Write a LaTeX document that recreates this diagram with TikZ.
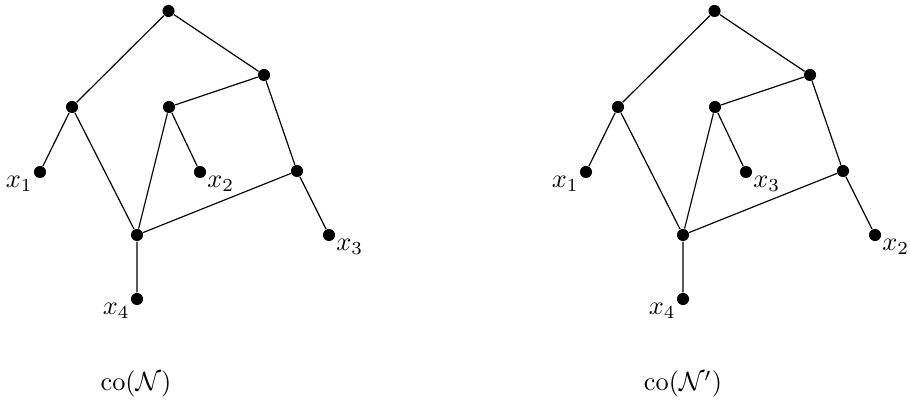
\documentclass[tikz,border=0pt]{standalone}
\begin{document}
\begin{tikzpicture}[x=0.38pt,y=-0.38pt,
  vtx/.style={circle,fill=black,inner sep=0pt,minimum size=4.6pt},
  lab/.style={inner sep=0.3pt,label distance=0pt},
  edge/.style={line width=0.45pt}]
\useasboundingbox (0,0) rectangle (910,401);
% left network
\node[vtx] (r) at (168.5,11) {};
\node[vtx] (a) at (72,107) {};
\node[vtx] (b) at (264,75) {};
\node[vtx] (c) at (169,107) {};
\node[vtx,label={[lab]205:$x_1$}] (l1) at (40,172) {};
\node[vtx,label={[lab]-24:$x_2$}] (l2) at (200,172) {};
\node[vtx] (d) at (297,171) {};
\node[vtx] (e) at (137,235) {};
\node[vtx,label={[lab]-24:$x_3$}] (l3) at (329,235) {};
\node[vtx,label={[lab]205:$x_4$}] (l4) at (137,299) {};
\draw[edge] (r)--(a) (r)--(b) (a)--(l1) (a)--(e) (b)--(c) (b)--(d)
  (c)--(e) (c)--(l2) (d)--(e) (d)--(l3) (e)--(l4);
\node (t1) at (136,384) {$\mathrm{co}(\mathcal{N})$};
% right network
\node[vtx] (R) at (714.5,11) {};
\node[vtx] (A) at (618,107) {};
\node[vtx] (B) at (810,75) {};
\node[vtx] (C) at (715,107) {};
\node[vtx,label={[lab]205:$x_1$}] (L1) at (586,172) {};
\node[vtx,label={[lab]-24:$x_3$}] (L3) at (746,172) {};
\node[vtx] (D) at (843,171) {};
\node[vtx] (E) at (683,235) {};
\node[vtx,label={[lab]-24:$x_2$}] (L2) at (875,235) {};
\node[vtx,label={[lab]205:$x_4$}] (L4) at (683,299) {};
\draw[edge] (R)--(A) (R)--(B) (A)--(L1) (A)--(E) (B)--(C) (B)--(D)
  (C)--(E) (C)--(L3) (D)--(E) (D)--(L2) (E)--(L4);
\node (t2) at (683,384) {$\mathrm{co}(\mathcal{N}')$};
\end{tikzpicture}
\end{document}
